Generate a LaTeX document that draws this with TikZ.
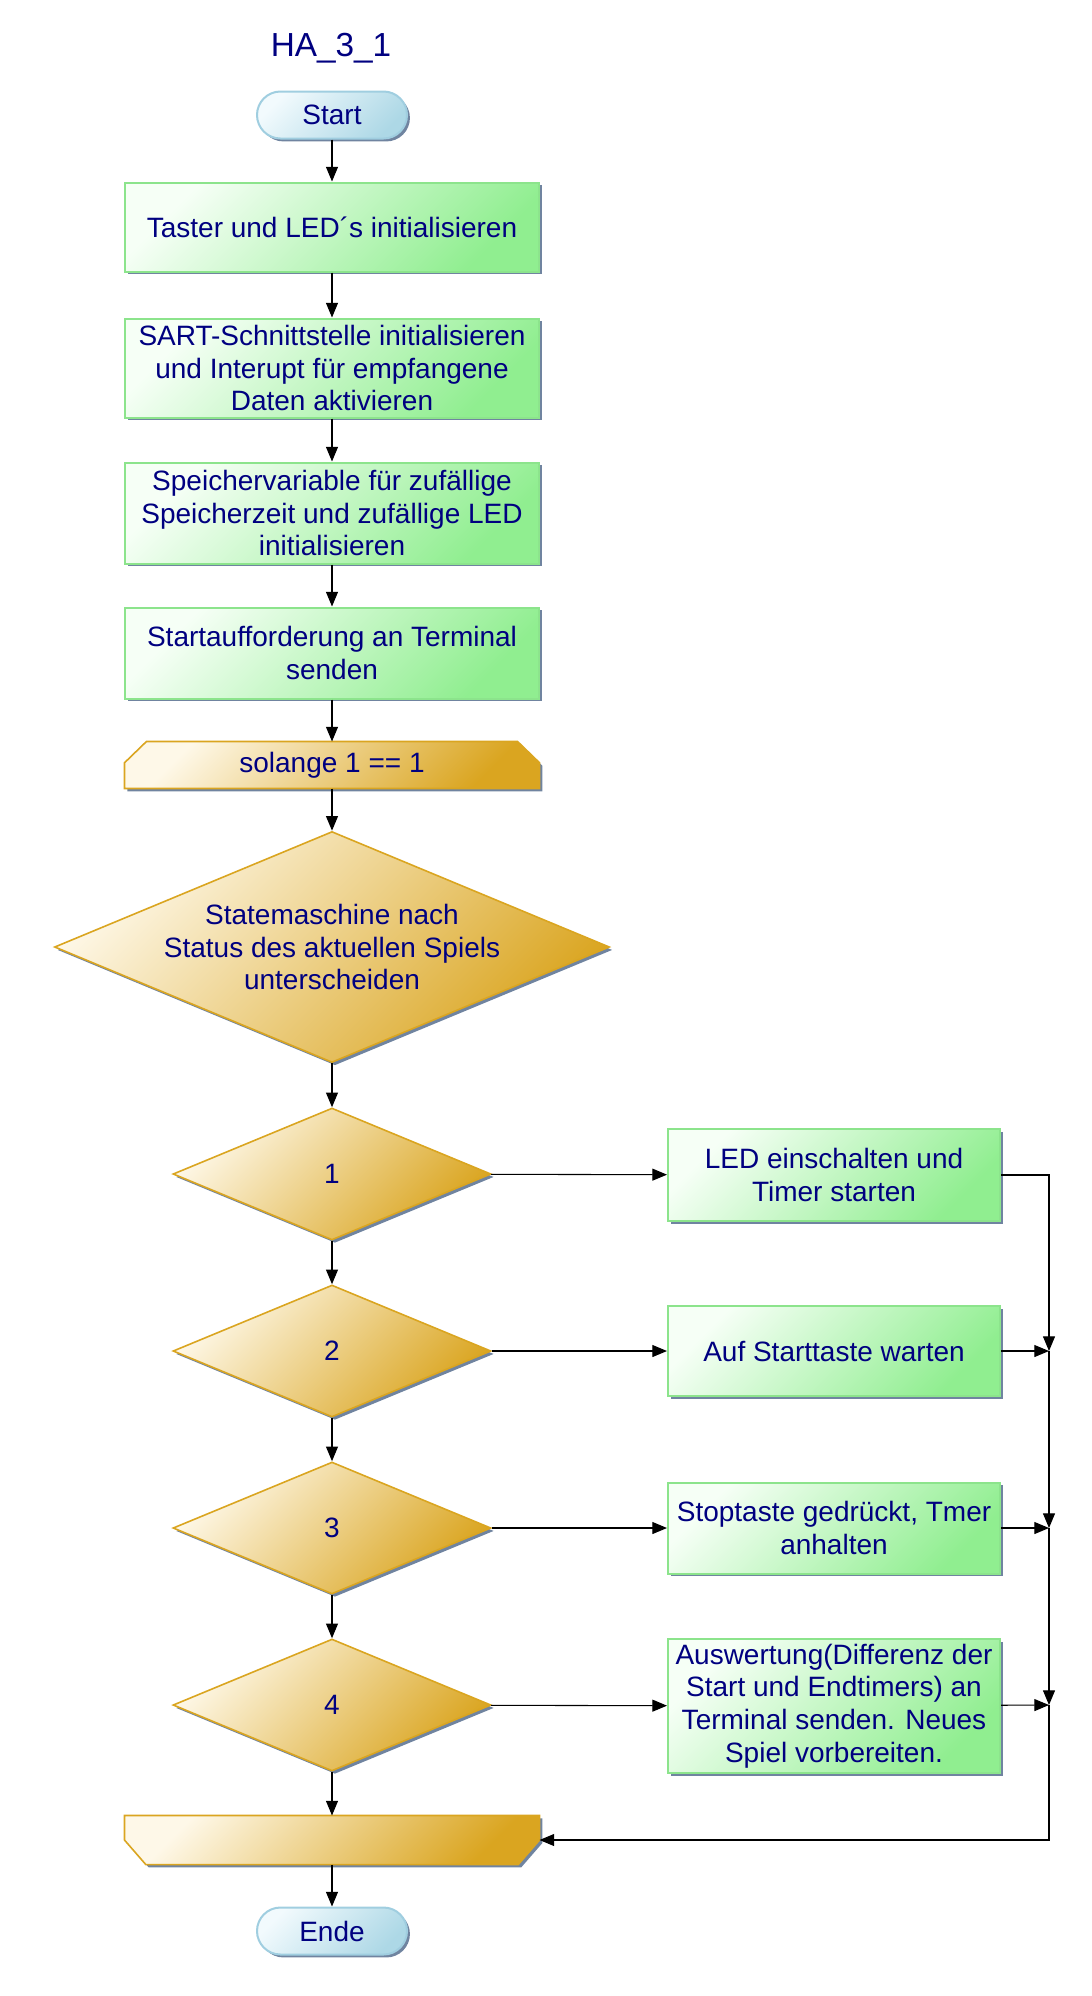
\documentclass[tikz,border=0pt]{standalone}
\usepackage{fontspec}
\setmainfont{Liberation Sans}
\usepackage{tikz}
\usetikzlibrary{shapes.geometric,shadows,arrows.meta,backgrounds}

\definecolor{navytext}{RGB}{0,0,128}
\definecolor{greenlight}{RGB}{246,255,246}
\definecolor{greenfill}{RGB}{144,238,144}
\definecolor{greenline}{RGB}{140,228,140}
\definecolor{goldlight}{RGB}{254,248,232}
\definecolor{goldfill}{RGB}{218,165,32}
\definecolor{bluelight}{RGB}{242,250,253}
\definecolor{bluefill}{RGB}{173,216,230}
\definecolor{blueline}{RGB}{160,206,224}
\definecolor{shadowgray}{RGB}{112,132,160}

\begin{document}
\begin{tikzpicture}[x=0.75pt,y=-0.75pt,
  >={Triangle[length=11pt,width=9pt]},
  every node/.style={text=navytext,font=\fontsize{21}{24.4}\selectfont,align=center},
  every path/.style={line width=0.8pt},
  shady/.style={drop shadow={shadow xshift=2.2pt,shadow yshift=-2.2pt,fill=shadowgray,opacity=1}},
  term/.style={shady,rectangle,rounded corners=17.6pt,draw=blueline,line width=1.5pt,
    top color=bluelight,bottom color=bluefill,shading angle=45,
    minimum width=112.5pt,minimum height=35.25pt},
  proc/.style={shady,rectangle,draw=greenline,line width=1.5pt,
    top color=greenlight,bottom color=greenfill,shading angle=45,inner sep=2pt},
  decide/.style={shady,diamond,draw=goldfill,line width=1.2pt,
    top color=goldlight,bottom color=goldfill,shading angle=45,inner sep=0pt,aspect=2.4},
  loopbox/.style={rectangle,inner sep=0pt,minimum width=310.5pt},
  goldshape/.style={shady,draw=goldfill,line width=1.2pt,
    top color=goldlight,bottom color=goldfill,shading angle=45}]
\useasboundingbox (0,0) rectangle (1092,1996);

\node (title) at (331,48) [font=\fontsize{25}{30}\selectfont] {HA\_3\_1};
\node (start) at (332,115) [term] {Start};
\node (init1) at (332,227) [proc,minimum width=310.5pt,minimum height=66.75pt] {Taster und LED´s initialisieren};
\node (init2) at (332,368) [proc,minimum width=310.5pt,minimum height=74.25pt] {SART-Schnittstelle initialisieren\\und Interupt für empfangene\\Daten aktivieren};
\node (init3) at (332,513) [proc,minimum width=310.5pt,minimum height=75.75pt] {Speichervariable für zufällige\\Speicherzeit und zufällige LED\\initialisieren};
\node (init4) at (332,653) [proc,minimum width=310.5pt,minimum height=68.25pt] {Startaufforderung an Terminal\\senden};
\node (loop) at (332,765) [loopbox,minimum height=34.5pt] {solange 1 == 1};
\node (state) at (332,947) [decide,minimum width=416.25pt,minimum height=173.25pt] {Statemaschine nach\\Status des aktuellen Spiels\\unterscheiden};

\node (case1) at (332,1174) [decide,minimum width=238.5pt,minimum height=99pt] {1};
\node (case2) at (332,1351) [decide,minimum width=238.5pt,minimum height=99pt] {2};
\node (case3) at (332,1528) [decide,minimum width=238.5pt,minimum height=99pt] {3};
\node (case4) at (332,1705) [decide,minimum width=238.5pt,minimum height=99pt] {4};

\node (do1) at (834,1175) [proc,minimum width=249pt,minimum height=69pt] {LED einschalten und\\Timer starten};
\node (do2) at (834,1351) [proc,minimum width=249pt,minimum height=67.5pt] {Auf Starttaste warten};
\node (do3) at (834,1528) [proc,minimum width=249pt,minimum height=68.25pt] {Stoptaste gedrückt, Tmer\\anhalten};
\node (do4) at (834,1706) [proc,minimum width=249pt,minimum height=100.5pt] {Auswertung(Differenz der\\Start und Endtimers) an\\Terminal senden. Neues\\Spiel vorbereiten.};

\node (loopend) at (332,1840) [loopbox,minimum height=36pt] {};
\node (ende) at (332,1931) [term] {Ende};

% loop head and tail outlines
\begin{scope}[on background layer]
\draw [goldshape] (loop.south west) -- ([yshift=-16pt]loop.north west) -- ([xshift=16.5pt]loop.north west)
  -- ([xshift=-16.5pt]loop.north east) -- ([yshift=-16pt]loop.north east) -- (loop.south east) -- cycle;
\draw [goldshape] (loopend.north west) -- (loopend.west) -- ([xshift=16pt]loopend.south west)
  -- ([xshift=-16pt]loopend.south east) -- (loopend.east) -- (loopend.north east) -- cycle;
\end{scope}

\coordinate (j2) at (1049,1351);
\coordinate (j3) at (1049,1528);
\coordinate (j4) at (1049,1705);

% main column
\draw [->] (start) -- (init1);
\draw [->] (init1) -- (init2);
\draw [->] (init2) -- (init3);
\draw [->] (init3) -- (init4);
\draw [->] (init4) -- (loop);
\draw [->] (loop) -- (state);
\draw [->] (state) -- (case1);
\draw [->] (case1) -- (case2);
\draw [->] (case2) -- (case3);
\draw [->] (case3) -- (case4);
\draw [->] (case4) -- (loopend);
\draw [->] (loopend) -- (ende);
% cases
\draw [->] (case1) -- (do1);
\draw [->] (case2) -- (do2);
\draw [->] (case3) -- (do3);
\draw [->] (case4) -- (do4);
% back to loop
\draw [->] (do1) -| (j2);
\draw [->] (do2) -- (j2);
\draw [->] (j2) -- (j3);
\draw [->] (do3) -- (j3);
\draw [->] (j3) -- (j4);
\draw [->] (do4) -- (j4);
\draw [->] (j4) |- (loopend);
\end{tikzpicture}
\end{document}
